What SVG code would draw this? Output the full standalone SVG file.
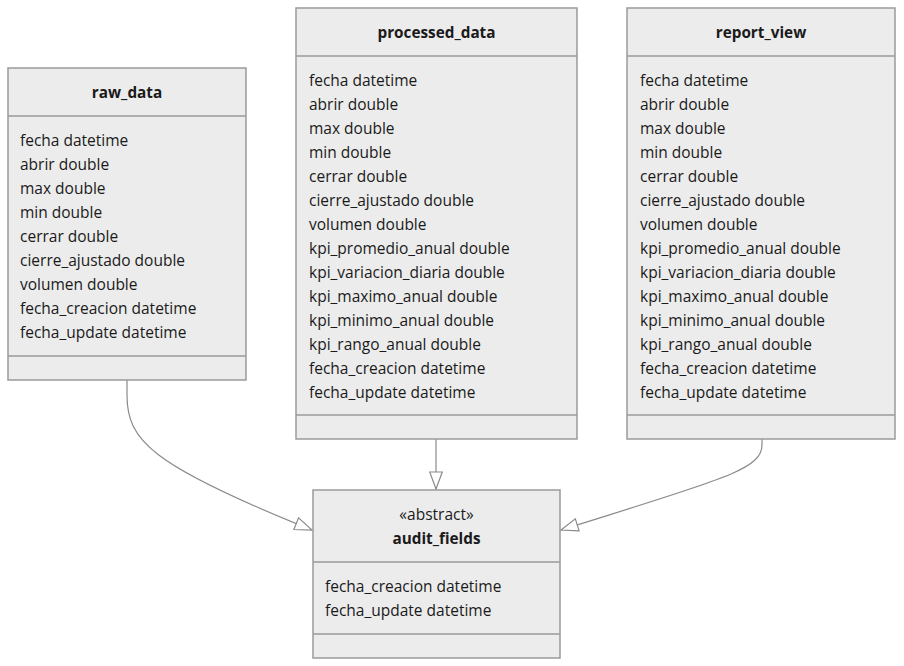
<svg xmlns="http://www.w3.org/2000/svg" width="904" height="666" viewBox="0 0 904 666">
<style>
.box{fill:#ECECEC;stroke:#9A9A9A;stroke-width:1.5}
.div{stroke:#9A9A9A;stroke-width:1.5}
text{font-family:"Open Sans","Noto Sans","Liberation Sans",sans-serif;font-size:15.5px;fill:#1a1a1a}
.t{font-weight:bold;text-anchor:middle;font-size:15.3px}
.s{text-anchor:middle}
.edge{fill:none;stroke:#8a8a8a;stroke-width:1.2}
</style>
<defs>
<marker id="tri" viewBox="0 0 19 14" refX="18" refY="7" markerWidth="19" markerHeight="14" markerUnits="userSpaceOnUse" orient="auto">
<path d="M1,0.7 L18,7 L1,13.3 z" fill="#fff" stroke="#8a8a8a" stroke-width="1.2"/>
</marker>
</defs>
<g id="connectors">
<path class="edge" d="M127,380 L127,395 C127,440 150,465 312,530" marker-end="url(#tri)"/>
<path class="edge" d="M436,439 L436,489" marker-end="url(#tri)"/>
<path class="edge" d="M762,439 L762,445 C762,470 720,480 561,530" marker-end="url(#tri)"/>
</g>
<g id="raw_data">
<rect class="box" x="8" y="68" width="238" height="312"/>
<line class="div" x1="8" y1="116" x2="246" y2="116"/>
<line class="div" x1="8" y1="356" x2="246" y2="356"/>
<text class="t" x="127" y="98">raw_data</text>
<text x="20" y="146">fecha datetime</text>
<text x="20" y="170">abrir double</text>
<text x="20" y="194">max double</text>
<text x="20" y="218">min double</text>
<text x="20" y="242">cerrar double</text>
<text x="20" y="266">cierre_ajustado double</text>
<text x="20" y="290">volumen double</text>
<text x="20" y="314">fecha_creacion datetime</text>
<text x="20" y="338">fecha_update datetime</text>
</g>
<g id="processed_data">
<rect class="box" x="296" y="8" width="281" height="431"/>
<line class="div" x1="296" y1="56" x2="577" y2="56"/>
<line class="div" x1="296" y1="415" x2="577" y2="415"/>
<text class="t" x="436.5" y="38">processed_data</text>
<text x="309" y="86">fecha datetime</text>
<text x="309" y="110">abrir double</text>
<text x="309" y="134">max double</text>
<text x="309" y="158">min double</text>
<text x="309" y="182">cerrar double</text>
<text x="309" y="206">cierre_ajustado double</text>
<text x="309" y="230">volumen double</text>
<text x="309" y="254">kpi_promedio_anual double</text>
<text x="309" y="278">kpi_variacion_diaria double</text>
<text x="309" y="302">kpi_maximo_anual double</text>
<text x="309" y="326">kpi_minimo_anual double</text>
<text x="309" y="350">kpi_rango_anual double</text>
<text x="309" y="374">fecha_creacion datetime</text>
<text x="309" y="398">fecha_update datetime</text>
</g>
<g id="report_view">
<rect class="box" x="627" y="8" width="268" height="431"/>
<line class="div" x1="627" y1="56" x2="895" y2="56"/>
<line class="div" x1="627" y1="415" x2="895" y2="415"/>
<text class="t" x="761" y="38">report_view</text>
<text x="640" y="86">fecha datetime</text>
<text x="640" y="110">abrir double</text>
<text x="640" y="134">max double</text>
<text x="640" y="158">min double</text>
<text x="640" y="182">cerrar double</text>
<text x="640" y="206">cierre_ajustado double</text>
<text x="640" y="230">volumen double</text>
<text x="640" y="254">kpi_promedio_anual double</text>
<text x="640" y="278">kpi_variacion_diaria double</text>
<text x="640" y="302">kpi_maximo_anual double</text>
<text x="640" y="326">kpi_minimo_anual double</text>
<text x="640" y="350">kpi_rango_anual double</text>
<text x="640" y="374">fecha_creacion datetime</text>
<text x="640" y="398">fecha_update datetime</text>
</g>
<g id="audit_fields">
<rect class="box" x="313" y="490" width="247" height="168"/>
<line class="div" x1="313" y1="562" x2="560" y2="562"/>
<line class="div" x1="313" y1="634" x2="560" y2="634"/>
<text class="s" x="436.5" y="520">«abstract»</text>
<text class="t" x="436.5" y="544">audit_fields</text>
<text x="325" y="592">fecha_creacion datetime</text>
<text x="325" y="616">fecha_update datetime</text>
</g>
</svg>
